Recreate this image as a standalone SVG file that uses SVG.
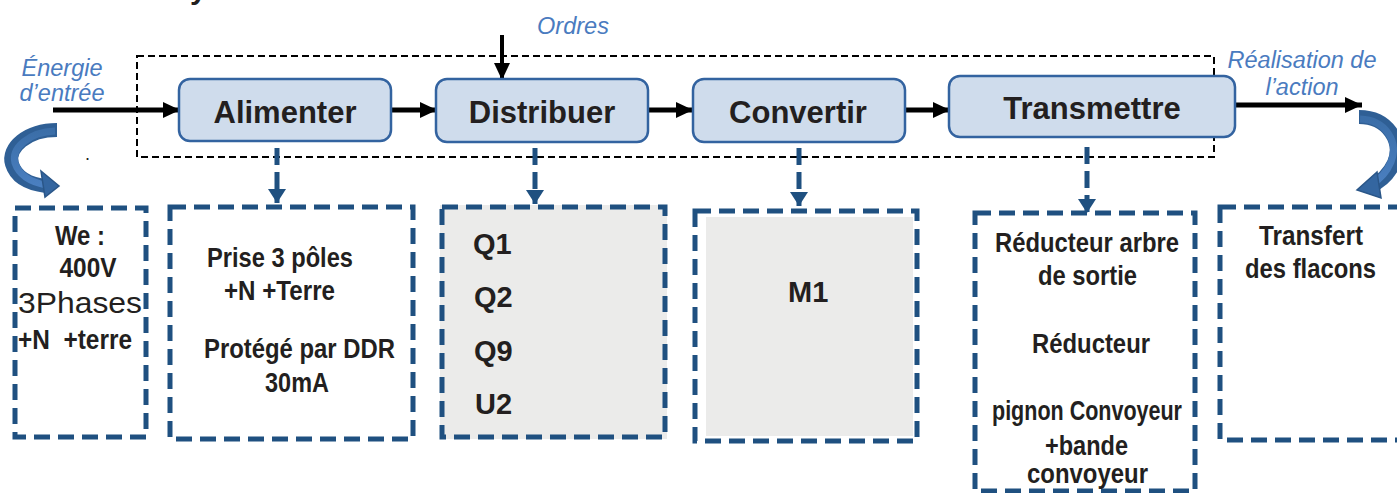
<svg xmlns="http://www.w3.org/2000/svg" width="1397" height="493" viewBox="0 0 1397 493">
  <defs>
    <marker id="headBlack" markerUnits="userSpaceOnUse" markerWidth="17" markerHeight="16" refX="17" refY="8" orient="auto">
      <path d="M0,0 L17,8 L0,16 Z" fill="#000"/>
    </marker>
    <marker id="headBlue" markerUnits="userSpaceOnUse" markerWidth="14" markerHeight="18" refX="14" refY="9" orient="auto">
      <path d="M0,0 L14,9 L0,18 Z" fill="#1f5080"/>
    </marker>
    <linearGradient id="curveGrad" x1="0" y1="0" x2="0" y2="1">
      <stop offset="0" stop-color="#3b6ea8"/>
      <stop offset="1" stop-color="#4a7fc0"/>
    </linearGradient>
  </defs>
  <style>
    .frame { fill: none; stroke: #000; stroke-width: 2; stroke-dasharray: 7 4; }
    .node rect { fill: #cfdcec; stroke: #3363a0; stroke-width: 2.5; }
    .node text { font-family: "Liberation Sans", Arial, sans-serif; font-weight: bold; font-size: 31px; fill: #231f20; text-anchor: middle; }
    .flow { stroke: #000; stroke-width: 5; fill: none; marker-end: url(#headBlack); }
    .order { stroke: #000; stroke-width: 4; fill: none; marker-end: url(#headBlack); }
    .down { stroke: #1f5080; stroke-width: 5; fill: none; stroke-dasharray: 17 7; marker-end: url(#headBlue); }
    .lbl { font-family: "Liberation Sans", Arial, sans-serif; font-style: italic; font-size: 23.5px; fill: #4a7bbf; text-anchor: middle; }
    .box { fill: none; stroke: #1f5080; stroke-width: 5; stroke-dasharray: 16 8; }
    .nt { font-family: "Liberation Sans Narrow", "Liberation Sans", Arial, sans-serif; font-weight: bold; font-size: 27px; fill: #231f20; }
    .bt { font-family: "Liberation Sans", Arial, sans-serif; font-weight: bold; font-size: 29px; fill: #231f20; }
    .curve { fill: none; stroke: #2f5f95; stroke-width: 14; }
    .curveIn { fill: none; stroke: url(#curveGrad); stroke-width: 7; }
  </style>

  <!-- clipped heading letter at the top edge -->
  <text x="190" y="-1" font-family="Liberation Sans, Arial, sans-serif" font-weight="bold" font-size="30" fill="#231f20">y</text>

  <!-- function chain frame -->
  <rect class="frame" x="137" y="56" width="1077" height="101"/>

  <!-- input / output labels -->
  <text class="lbl" x="62" y="76">Énergie</text>
  <text class="lbl" x="62" y="101">d’entrée</text>
  <text class="lbl" x="573" y="34">Ordres</text>
  <text class="lbl" x="1302" y="68">Réalisation de</text>
  <text class="lbl" x="1302" y="95">l’action</text>
  <text x="85" y="160" font-family="Liberation Sans, Arial, sans-serif" font-size="18" fill="#231f20">.</text>

  <!-- connectors -->
  <g id="connectors">
    <line class="flow" x1="53" y1="110" x2="180" y2="110"/>
    <line class="flow" x1="391" y1="110" x2="437" y2="110"/>
    <line class="flow" x1="648" y1="110" x2="693" y2="110"/>
    <line class="flow" x1="905" y1="110" x2="950" y2="110"/>
    <line class="flow" x1="1235" y1="105" x2="1362" y2="105"/>
    <line class="order" x1="502" y1="35" x2="502" y2="80"/>
    <line class="down" x1="277" y1="148" x2="277" y2="203"/>
    <line class="down" x1="535" y1="148" x2="535" y2="204"/>
    <line class="down" x1="799" y1="148" x2="799" y2="206"/>
    <line class="down" x1="1087" y1="147" x2="1087" y2="213"/>
    <!-- curved energy arrows -->
    <path class="curve" d="M57,130 C27,130 7,148 12,164 C16,177 29,184 46,186"/>
    <path class="curveIn" d="M55,131 C29,132 11,148 15,163 C19,175 30,182 46,185"/>
    <polygon points="41,171 59,186 45,197" fill="#3466a0" stroke="#2a5688" stroke-width="1.5"/>
    <path class="curve" d="M1359,117 C1388,117 1403,142 1394,163 C1388,176 1380,182 1371,186"/>
    <path class="curveIn" d="M1360,119 C1386,120 1399,142 1391,162 C1386,174 1379,180 1371,185"/>
    <polygon points="1377,172 1357,190 1381,198" fill="#3466a0" stroke="#2a5688" stroke-width="1.5"/>
  </g>

  <!-- function nodes -->
  <g id="alimenter" class="node">
    <rect x="179" y="79" width="212" height="62" rx="11"/>
    <text x="285" y="123">Alimenter</text>
  </g>
  <g id="distribuer" class="node">
    <rect x="436" y="79" width="212" height="63" rx="11"/>
    <text x="542" y="123">Distribuer</text>
  </g>
  <g id="convertir" class="node">
    <rect x="693" y="79" width="212" height="63" rx="11"/>
    <text x="798" y="123">Convertir</text>
  </g>
  <g id="transmettre" class="node">
    <rect x="949" y="76" width="286" height="61" rx="11"/>
    <text x="1092" y="119">Transmettre</text>
  </g>

  <!-- component boxes -->
  <g id="box-energie">
    <rect class="box" x="15" y="208" width="131" height="229"/>
    <text class="nt" x="80" y="245" text-anchor="middle" textLength="50" lengthAdjust="spacingAndGlyphs">We :</text>
    <text class="nt" x="88" y="277" text-anchor="middle" textLength="57" lengthAdjust="spacingAndGlyphs">400V</text>
    <text x="18" y="313" font-family="Liberation Sans, Arial, sans-serif" font-size="29" fill="#231f20" textLength="124" lengthAdjust="spacingAndGlyphs">3Phases</text>
    <text class="nt" x="18" y="349" textLength="114" lengthAdjust="spacingAndGlyphs" xml:space="preserve">+N  +terre</text>
  </g>
  <g id="box-alimenter">
    <rect class="box" x="170" y="207" width="243" height="232"/>
    <text class="nt" x="207" y="267" textLength="146" lengthAdjust="spacingAndGlyphs">Prise 3 pôles</text>
    <text class="nt" x="224" y="300" textLength="111" lengthAdjust="spacingAndGlyphs">+N +Terre</text>
    <text class="nt" x="204" y="358" textLength="191" lengthAdjust="spacingAndGlyphs">Protégé par DDR</text>
    <text class="nt" x="265" y="392" textLength="64" lengthAdjust="spacingAndGlyphs">30mA</text>
  </g>
  <g id="box-distribuer">
    <rect x="440" y="205" width="227" height="234" fill="#ebebea"/>
    <rect class="box" x="442" y="207" width="223" height="230"/>
    <text class="bt" x="473" y="254">Q1</text>
    <text class="bt" x="474" y="307">Q2</text>
    <text class="bt" x="474" y="361">Q9</text>
    <text class="bt" x="475" y="414">U2</text>
  </g>
  <g id="box-convertir">
    <rect x="706" y="217" width="207" height="219" fill="#ebebea"/>
    <rect class="box" x="695" y="211" width="222" height="230"/>
    <text class="bt" x="788" y="302">M1</text>
  </g>
  <g id="box-transmettre">
    <rect class="box" x="975" y="213" width="220" height="278"/>
    <text class="nt" x="995" y="252" textLength="184" lengthAdjust="spacingAndGlyphs">Réducteur arbre</text>
    <text class="nt" x="1038" y="285" textLength="99" lengthAdjust="spacingAndGlyphs">de sortie</text>
    <text class="nt" x="1032" y="353" textLength="118" lengthAdjust="spacingAndGlyphs">Réducteur</text>
    <text class="nt" x="992" y="420" textLength="190" lengthAdjust="spacingAndGlyphs">pignon Convoyeur</text>
    <text class="nt" x="1045" y="455" textLength="83" lengthAdjust="spacingAndGlyphs">+bande</text>
    <text class="nt" x="1027" y="483" textLength="121" lengthAdjust="spacingAndGlyphs">convoyeur</text>
  </g>
  <g id="box-action">
    <rect class="box" x="1220" y="207" width="195" height="233"/>
    <text class="nt" x="1259" y="245" textLength="104" lengthAdjust="spacingAndGlyphs">Transfert</text>
    <text class="nt" x="1245" y="278" textLength="131" lengthAdjust="spacingAndGlyphs">des flacons</text>
  </g>
</svg>
